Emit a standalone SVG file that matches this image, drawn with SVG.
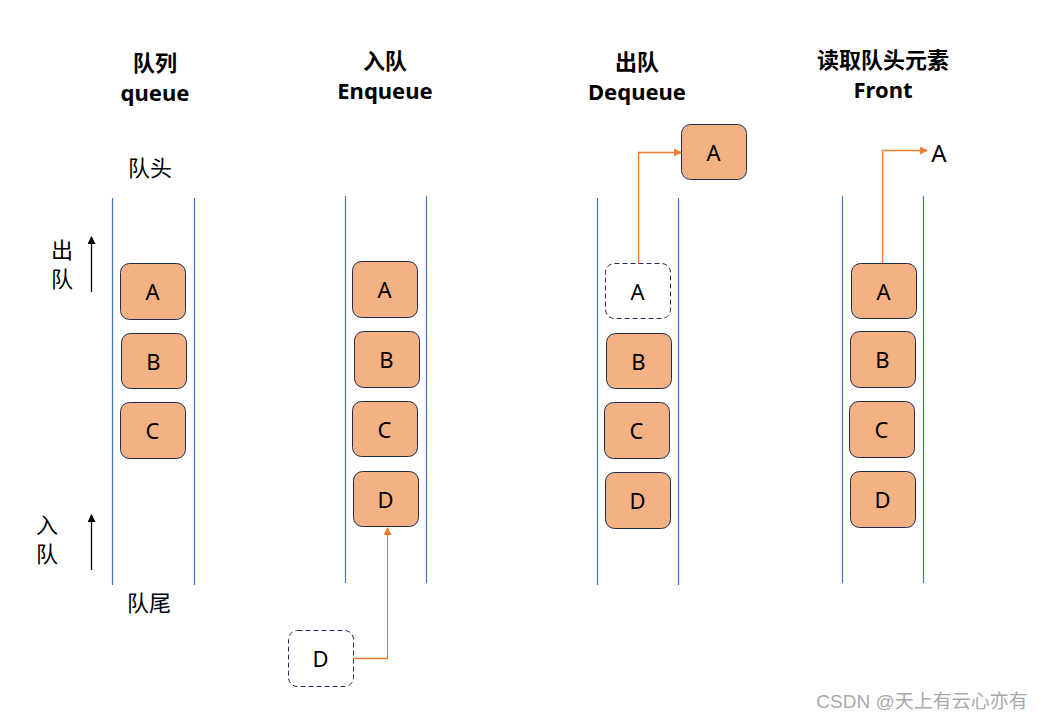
<svg xmlns="http://www.w3.org/2000/svg" width="1043" height="720" viewBox="0 0 1043 720">
<defs>
<style>
.lane{stroke:#4472C4;stroke-width:1.2;fill:none}
.box{fill:#F4B183;stroke:#1F2D4D;stroke-width:1}
.dash{fill:#fff;stroke:#1F2D4D;stroke-width:1;stroke-dasharray:5,3}
.lbl{font-family:"Noto Sans","Noto Sans CJK SC",sans-serif;font-size:22px;fill:#000;text-anchor:middle;dominant-baseline:central}
.title{font-family:"Noto Sans","Noto Sans CJK SC",sans-serif;font-size:22px;font-weight:bold;fill:#000;text-anchor:middle}
.cjk{font-family:"Noto Sans CJK SC",sans-serif;font-size:22px;fill:#000;text-anchor:middle}
.oc{stroke:#ED7D31;stroke-width:1.3;fill:none}
.bk{stroke:#000;stroke-width:1.3;fill:none}
</style>
<marker id="ao" markerWidth="8" markerHeight="8" refX="7" refY="4" orient="auto" markerUnits="userSpaceOnUse"><path d="M0,0 L8,4 L0,8 Z" fill="#ED7D31"/></marker>
<marker id="ab" markerWidth="8" markerHeight="8" refX="7" refY="4" orient="auto" markerUnits="userSpaceOnUse"><path d="M0,0 L8,4 L0,8 Z" fill="#000"/></marker>
</defs>
<rect width="1043" height="720" fill="#fff"/>
<g id="titles">
<text class="title" x="155" y="71">队列</text>
<text class="title" x="155" y="101">queue</text>
<text class="title" x="385" y="69">入队</text>
<text class="title" x="385" y="99">Enqueue</text>
<text class="title" x="637" y="70">出队</text>
<text class="title" x="637" y="100">Dequeue</text>
<text class="title" x="883" y="68">读取队头元素</text>
<text class="title" x="883" y="98">Front</text>
</g>
<g id="labels">
<text class="cjk" x="150" y="176">队头</text>
<text class="cjk" x="149" y="611">队尾</text>
<text class="cjk" x="62" y="258">出</text>
<text class="cjk" x="62" y="287">队</text>
<text class="cjk" x="47" y="533">入</text>
<text class="cjk" x="47" y="562">队</text>
<text class="lbl" x="939" y="152" style="font-size:24px">A</text>
</g>
<g id="lanes">
<line class="lane" x1="112.5" y1="198" x2="112.5" y2="585"/>
<line class="lane" x1="194.5" y1="198" x2="194.5" y2="585"/>
<line class="lane" x1="345.5" y1="196" x2="345.5" y2="583"/>
<line class="lane" x1="426.5" y1="196" x2="426.5" y2="583"/>
<line class="lane" x1="597.5" y1="198" x2="597.5" y2="585"/>
<line class="lane" x1="678.5" y1="198" x2="678.5" y2="585"/>
<line class="lane" x1="842.5" y1="196" x2="842.5" y2="583"/>
<line class="lane" x1="923.5" y1="196" x2="923.5" y2="583"/>
</g>
<g id="q1A"><rect class="box" x="120.5" y="263.5" width="65" height="56" rx="9"/><text class="lbl" x="152.5" y="291">A</text></g>
<g id="q1B"><rect class="box" x="121.5" y="333.5" width="65" height="55" rx="9"/><text class="lbl" x="153.5" y="360.5">B</text></g>
<g id="q1C"><rect class="box" x="120.5" y="402.5" width="65" height="56" rx="9"/><text class="lbl" x="152.5" y="430">C</text></g>
<g id="q2A"><rect class="box" x="352.5" y="261.5" width="65" height="56" rx="9"/><text class="lbl" x="384.5" y="289">A</text></g>
<g id="q2B"><rect class="box" x="354.5" y="331.5" width="65" height="56" rx="9"/><text class="lbl" x="386.5" y="359">B</text></g>
<g id="q2C"><rect class="box" x="352.5" y="401.5" width="65" height="55" rx="9"/><text class="lbl" x="384.5" y="428.5">C</text></g>
<g id="q2D"><rect class="box" x="353.5" y="471.5" width="65" height="55" rx="9"/><text class="lbl" x="385.5" y="498.5">D</text></g>
<g id="q2Dnew"><rect class="dash" x="288.5" y="630.5" width="65" height="56" rx="9"/><text class="lbl" x="320.5" y="658">D</text></g>
<g id="q3Aold"><rect class="dash" x="605.5" y="263.5" width="65" height="55" rx="9"/><text class="lbl" x="637.5" y="290.5">A</text></g>
<g id="q3B"><rect class="box" x="606.5" y="333.5" width="65" height="55" rx="9"/><text class="lbl" x="638.5" y="360.5">B</text></g>
<g id="q3C"><rect class="box" x="604.5" y="402.5" width="65" height="56" rx="9"/><text class="lbl" x="636.5" y="430">C</text></g>
<g id="q3D"><rect class="box" x="605.5" y="472.5" width="65" height="56" rx="9"/><text class="lbl" x="637.5" y="500">D</text></g>
<g id="q3Aout"><rect class="box" x="681.5" y="124.5" width="65" height="55" rx="9"/><text class="lbl" x="713.5" y="151.5">A</text></g>
<g id="q4A"><rect class="box" x="851.5" y="263.5" width="65" height="55" rx="9"/><text class="lbl" x="883.5" y="290.5">A</text></g>
<g id="q4B"><rect class="box" x="850.5" y="331.5" width="65" height="56" rx="9"/><text class="lbl" x="882.5" y="359">B</text></g>
<g id="q4C"><rect class="box" x="849.5" y="401.5" width="65" height="56" rx="9"/><text class="lbl" x="881.5" y="429">C</text></g>
<g id="q4D"><rect class="box" x="850.5" y="471.5" width="65" height="56" rx="9"/><text class="lbl" x="882.5" y="499">D</text></g>
<g id="connectors">
<path class="oc" d="M353,658.5 H387.5 V528" marker-end="url(#ao)"/>
<path class="oc" d="M638.5,263 V152.5 H681" marker-end="url(#ao)"/>
<path class="oc" d="M882.5,263 V150.5 H927" marker-end="url(#ao)"/>
<path class="bk" d="M91.5,292 V237" marker-end="url(#ab)"/>
<path class="bk" d="M91.5,570 V515" marker-end="url(#ab)"/>
</g>
<text x="922" y="708" font-family="'Liberation Sans','Noto Sans CJK SC',sans-serif" font-size="19" fill="#aaaaaa" text-anchor="middle">CSDN @天上有云心亦有</text>
</svg>
